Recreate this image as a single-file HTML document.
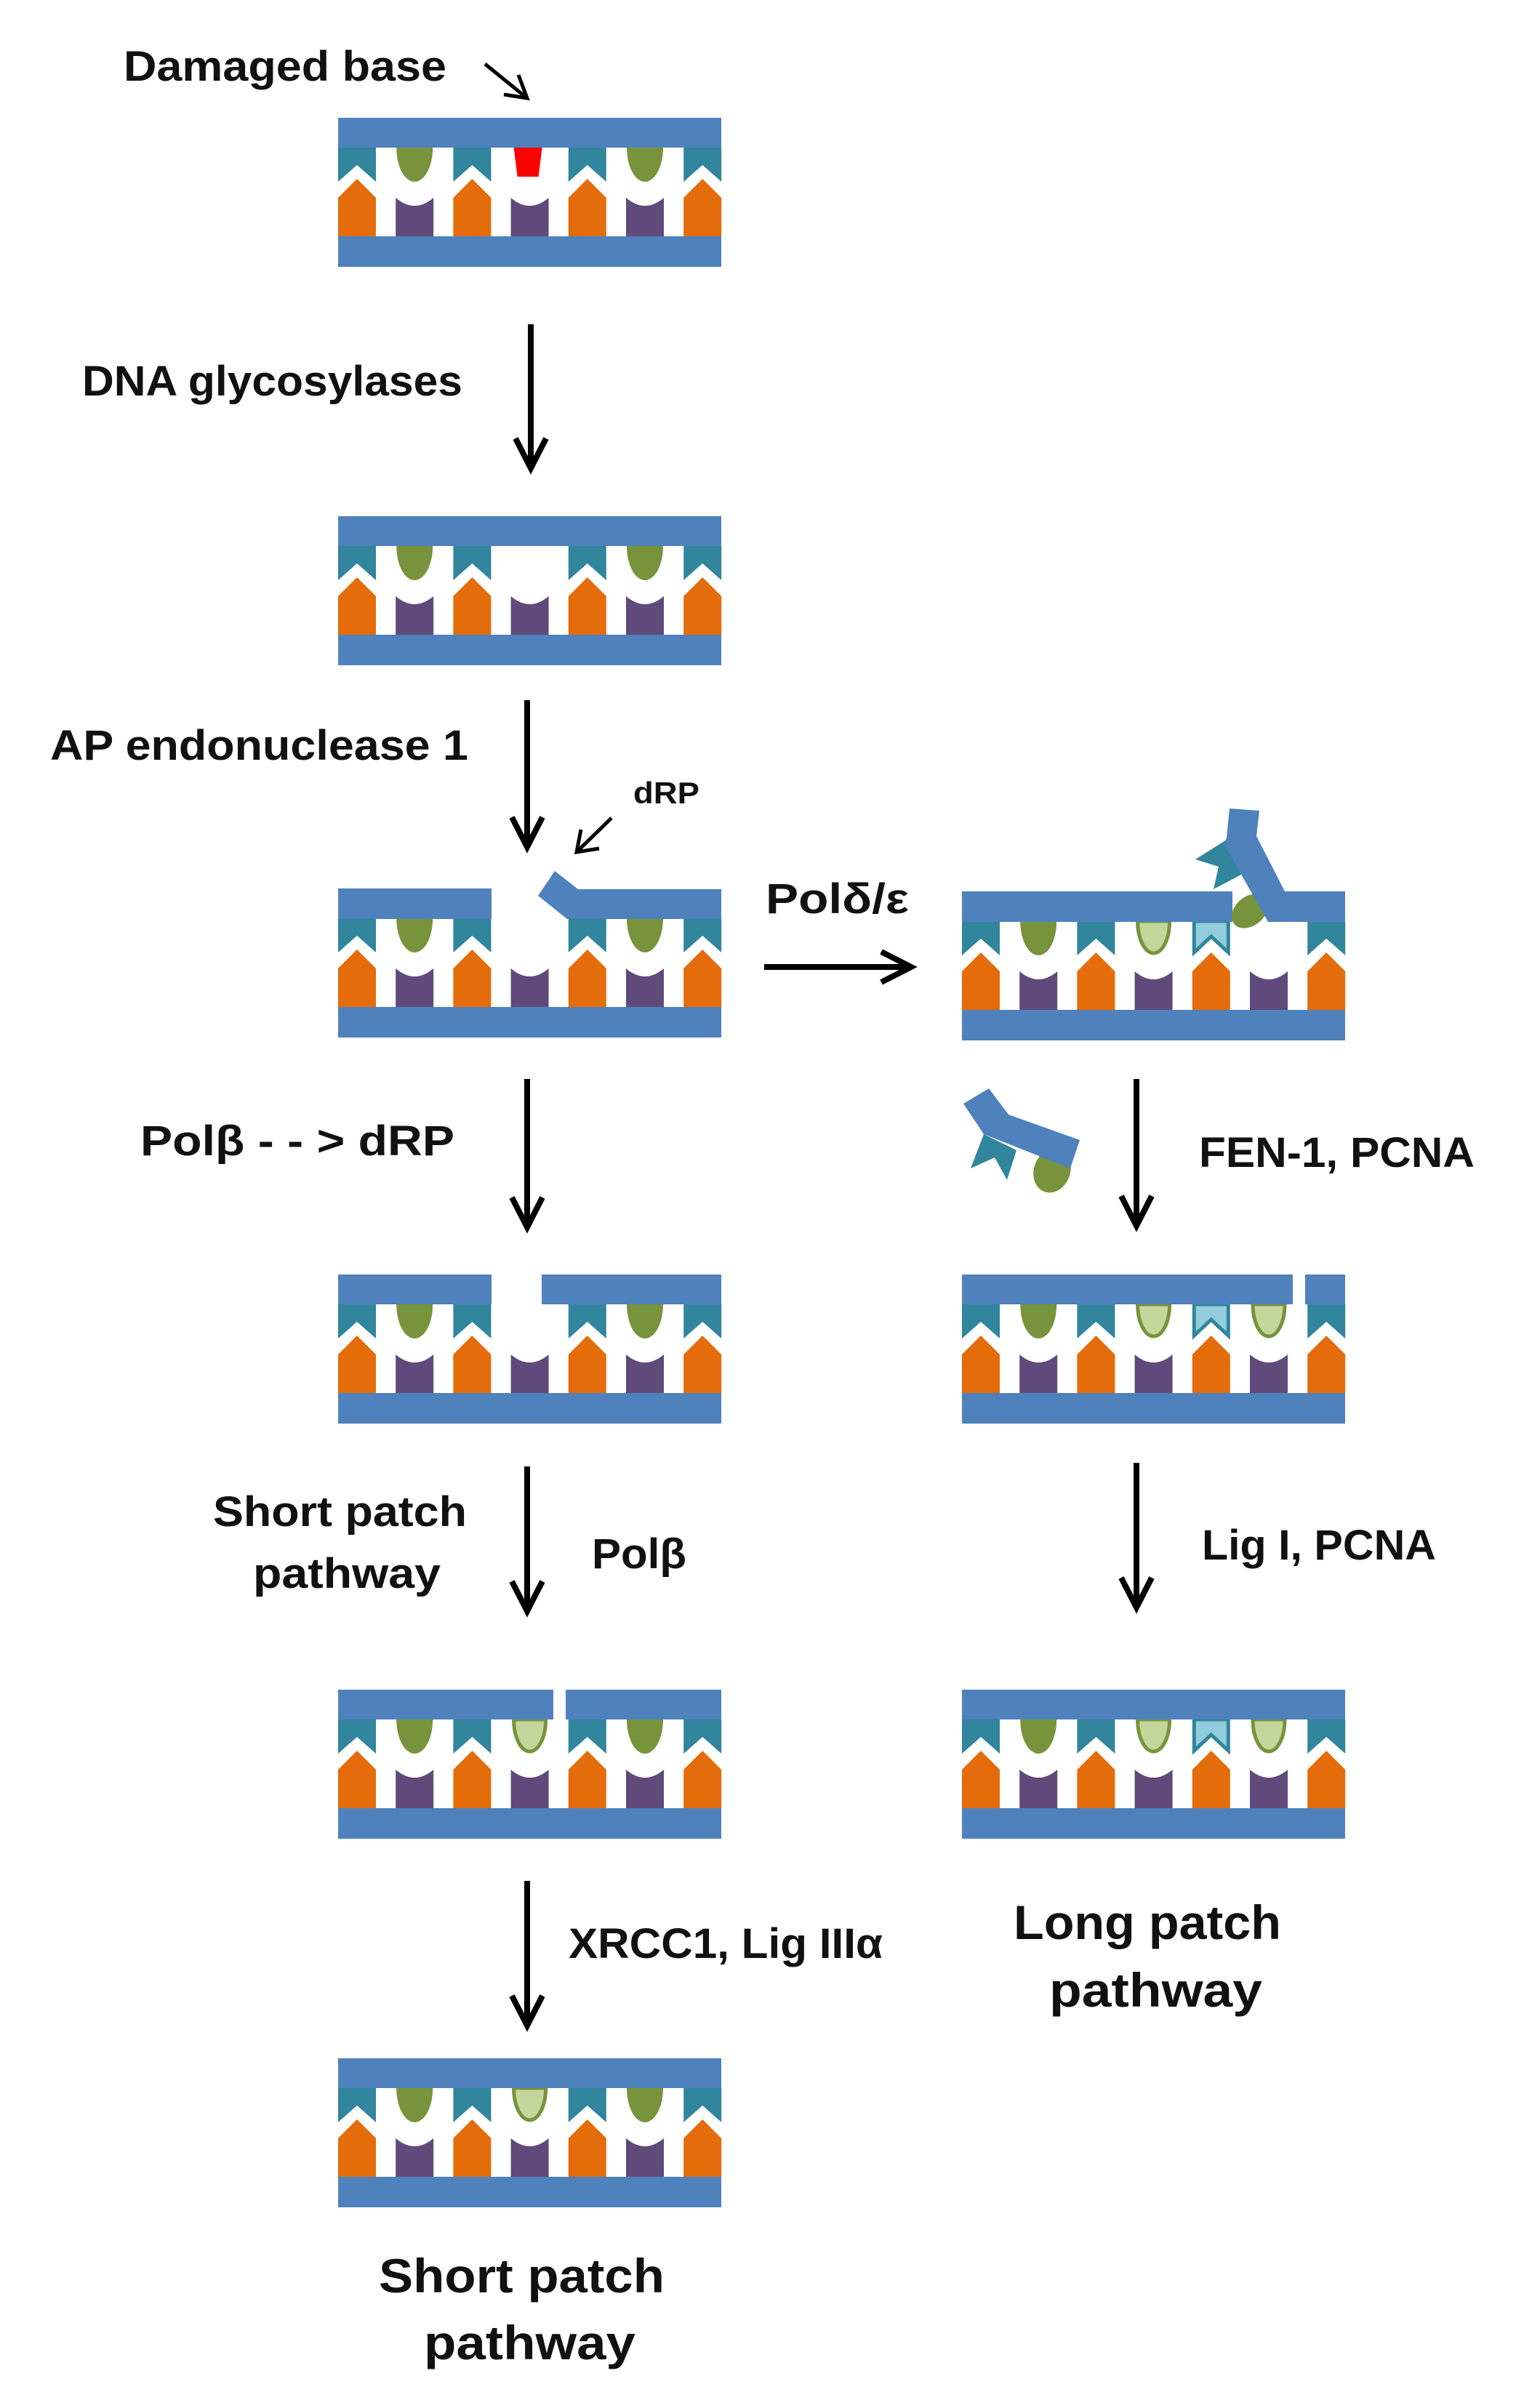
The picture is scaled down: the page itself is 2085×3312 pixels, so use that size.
<!DOCTYPE html>
<html><head><meta charset="utf-8"><style>html,body{margin:0;padding:0;background:#fff}svg{display:block}</style></head>
<body>
<svg width="2085" height="3312" viewBox="0 0 2085 3312" xmlns="http://www.w3.org/2000/svg">
<defs>
<path id="T" d="M0,41 H52 V88 L26,65 L0,88 Z" fill="#31859c"/>
<path id="O" d="M0,110 L26,84 L52,110 V163 H0 Z" fill="#e46c0a"/>
<path id="G" d="M1,41 A25,47 0 0 0 51,41 Z" fill="#77933c"/>
<path id="LG" d="M4,41 A22,44 0 0 0 48,41 Z" fill="#c3d69b" stroke="#77933c" stroke-width="5"/>
<path id="P" d="M0,110 Q26,132 52,110 V163 H0 Z" fill="#604a7b"/>
<path id="LB" d="M2.5,41 H49.5 V84 L26,62 L2.5,84 Z" fill="#93cddd" stroke="#31859c" stroke-width="5"/>
<path id="R" d="M4,41 H43 L38,81 H9 Z" fill="#ff0000"/>
<g id="base">
<rect x="0" y="163" width="527" height="42" fill="#4f81bd"/>
<use href="#O" x="0"/><use href="#P" x="79.2"/><use href="#O" x="158.4"/><use href="#P" x="237.6"/>
<use href="#O" x="316.8"/><use href="#P" x="396"/><use href="#O" x="475.2"/>
<use href="#T" x="0"/><use href="#G" x="79.2"/><use href="#T" x="158.4"/>
<use href="#T" x="316.8"/><use href="#G" x="396"/><use href="#T" x="475.2"/>
</g>
<g id="rbase">
<rect x="0" y="163" width="527" height="42" fill="#4f81bd"/>
<use href="#O" x="0"/><use href="#P" x="79.2"/><use href="#O" x="158.4"/><use href="#P" x="237.6"/>
<use href="#O" x="316.8"/><use href="#P" x="396"/><use href="#O" x="475.2"/>
<use href="#T" x="0"/><use href="#G" x="79.2"/><use href="#T" x="158.4"/><use href="#LG" x="237.6"/>
<use href="#LB" x="316.8"/><use href="#T" x="475.2"/>
</g>
</defs>

<!-- L1 -->
<g transform="translate(465,162)"><use href="#base"/><rect x="0" y="0" width="527" height="41" fill="#4f81bd"/><use href="#R" x="237.6"/></g>
<!-- L2 -->
<g transform="translate(465,710)"><use href="#base"/><rect x="0" y="0" width="527" height="41" fill="#4f81bd"/></g>
<!-- L3 -->
<g transform="translate(465,1222)"><use href="#base"/><rect x="0" y="0" width="211" height="42" fill="#4f81bd"/></g>
<polygon points="763,1198 795,1223 992,1223 992,1264 780,1264 740,1232" fill="#4f81bd"/>
<!-- R1 -->
<g transform="translate(1323,1226)"><use href="#rbase"/><rect x="0" y="0" width="372" height="42" fill="#4f81bd"/></g>
<ellipse cx="1719" cy="1253" rx="28" ry="20" transform="rotate(-40 1719 1253)" fill="#77933c"/>
<polygon points="1687,1155 1644,1182 1676,1192 1669,1223 1707,1203" fill="#31859c"/>
<polygon points="1691,1112 1732,1115 1728,1150 1767,1226 1850,1226 1850,1268 1744,1268 1684,1162 1687,1152" fill="#4f81bd"/>
<!-- L4 -->
<g transform="translate(465,1753)"><use href="#base"/><rect x="0" y="0" width="211" height="41" fill="#4f81bd"/><rect x="280" y="0" width="247" height="41" fill="#4f81bd"/></g>
<!-- R2 -->
<g transform="translate(1323,1753)"><use href="#rbase"/><use href="#LG" x="396"/><rect x="0" y="0" width="455" height="41" fill="#4f81bd"/><rect x="472" y="0" width="55" height="41" fill="#4f81bd"/></g>
<!-- L5 -->
<g transform="translate(465,2324)"><use href="#base"/><use href="#LG" x="237.6"/><rect x="0" y="0" width="296" height="41" fill="#4f81bd"/><rect x="313" y="0" width="214" height="41" fill="#4f81bd"/></g>
<!-- R3 -->
<g transform="translate(1323,2324)"><use href="#rbase"/><use href="#LG" x="396"/><rect x="0" y="0" width="527" height="41" fill="#4f81bd"/></g>
<!-- L6 -->
<g transform="translate(465,2831)"><use href="#base"/><use href="#LG" x="237.6"/><rect x="0" y="0" width="527" height="41" fill="#4f81bd"/></g>

<!-- free FEN fragment -->
<ellipse cx="1447" cy="1610" rx="25" ry="31" transform="rotate(20 1447 1610)" fill="#77933c"/>
<polygon points="1353,1560 1398,1582 1385,1623 1368,1592 1335,1607" fill="#31859c"/>
<polygon points="1325,1518 1360,1497 1387,1533 1485,1568 1472,1607 1353,1560" fill="#4f81bd"/>

<!-- arrows -->
<g stroke="#000" stroke-width="8" fill="none" stroke-linecap="butt" stroke-linejoin="miter">
<line x1="730" y1="446" x2="730" y2="644"/><polyline points="709,603 730,644 751,603"/>
<line x1="725" y1="963" x2="725" y2="1165"/><polyline points="704,1124 725,1165 746,1124"/>
<line x1="725" y1="1484" x2="725" y2="1688"/><polyline points="704,1647 725,1688 746,1647"/>
<line x1="725" y1="2017" x2="725" y2="2216"/><polyline points="704,2175 725,2216 746,2175"/>
<line x1="725" y1="2587" x2="725" y2="2786"/><polyline points="704,2745 725,2786 746,2745"/>
<line x1="1563" y1="1484" x2="1563" y2="1686"/><polyline points="1542,1645 1563,1686 1584,1645"/>
<line x1="1563" y1="2012" x2="1563" y2="2211"/><polyline points="1542,2170 1563,2211 1584,2170"/>
<line x1="1051" y1="1330" x2="1253" y2="1330"/><polyline points="1212,1309 1253,1330 1212,1351"/>
</g>
<g stroke="#000" stroke-width="5" fill="none">
<line x1="667" y1="88" x2="725" y2="135"/><polyline points="693,130 725,135 713,103"/>
<line x1="841" y1="1125" x2="793" y2="1172"/><polyline points="799,1141 793,1172 824,1167"/>
</g>

<!-- text -->
<g font-family="Liberation Sans, sans-serif" font-weight="bold" fill="#111" font-size="58" lengthAdjust="spacingAndGlyphs">
<text x="170" y="111" textLength="444" lengthAdjust="spacingAndGlyphs">Damaged base</text>
<text x="113" y="544" textLength="523" lengthAdjust="spacingAndGlyphs">DNA glycosylases</text>
<text x="69" y="1045" textLength="575" lengthAdjust="spacingAndGlyphs">AP endonuclease 1</text>
<text x="871" y="1105" font-size="42" textLength="91" lengthAdjust="spacingAndGlyphs">dRP</text>
<text x="1053" y="1256" textLength="197" lengthAdjust="spacingAndGlyphs">Polδ/ε</text>
<text x="193" y="1589" textLength="432" lengthAdjust="spacingAndGlyphs">Polβ - - &gt; dRP</text>
<text x="1649" y="1605" textLength="379" lengthAdjust="spacingAndGlyphs">FEN-1, PCNA</text>
<text x="293" y="2099" textLength="349" lengthAdjust="spacingAndGlyphs">Short patch</text>
<text x="348" y="2184" textLength="258" lengthAdjust="spacingAndGlyphs">pathway</text>
<text x="814" y="2157" textLength="130" lengthAdjust="spacingAndGlyphs">Polβ</text>
<text x="1653" y="2145" textLength="322" lengthAdjust="spacingAndGlyphs">Lig I, PCNA</text>
<text x="782" y="2693" textLength="432" lengthAdjust="spacingAndGlyphs">XRCC1, Lig IIIα</text>
<text x="1394" y="2667" font-size="66" textLength="368" lengthAdjust="spacingAndGlyphs">Long patch</text>
<text x="1443" y="2760" font-size="66" textLength="293" lengthAdjust="spacingAndGlyphs">pathway</text>
<text x="521" y="3153" font-size="66" textLength="393" lengthAdjust="spacingAndGlyphs">Short patch</text>
<text x="583" y="3245" font-size="66" textLength="291" lengthAdjust="spacingAndGlyphs">pathway</text>
</g>
</svg>
</body></html>
